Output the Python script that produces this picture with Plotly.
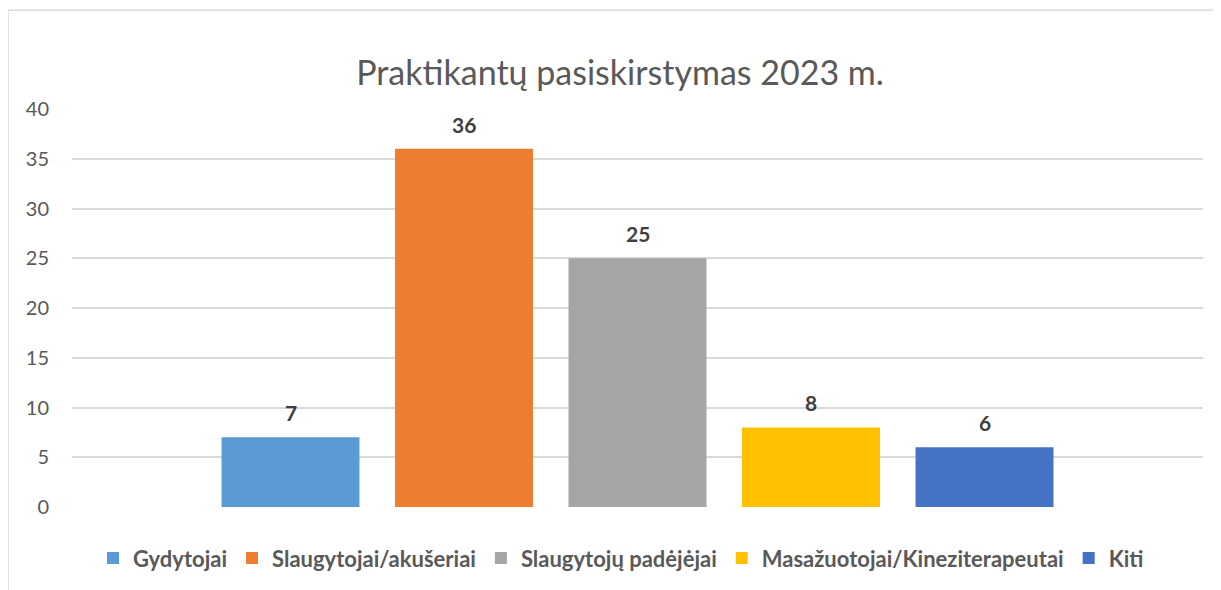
import plotly.graph_objects as go

series_names = ["Gydytojai", "Slaugytojai/akušeriai", "Slaugytojų padėjėjai",
                "Masažuotojai/Kineziterapeutai", "Kiti"]
series_values = [7, 36, 25, 8, 6]
series_colors = ["#5B9BD5", "#ED7D31", "#A5A5A5", "#FFC000", "#4472C4"]
y_ticks = [0, 5, 10, 15, 20, 25, 30, 35, 40]
title_text = "Praktikantų pasiskirstymas 2023 m."

W, H = 1221, 590
OFF = 8  # body margin of the html page
L, R = 72 - OFF, 1203 - OFF
T, B = 108.7 - OFF, 506.7 - OFF
pw, ph = R - L, B - T

fig = go.Figure()
for i, (n, v, c) in enumerate(zip(series_names, series_values, series_colors)):
    fig.add_trace(go.Bar(x=[i], y=[v], name=n, marker=dict(color=c, line=dict(width=0)),
                         width=0.795, hoverinfo="name+y"))
    fig.add_annotation(x=i, y=v, text=f"<b>{v}</b>", showarrow=False, yanchor="bottom",
                       yshift=10, font=dict(family="Lato", size=21, color="#404040"))

unit = 173.5
half = pw / unit / 2
fig.update_xaxes(range=[2 - half, 2 + half], showticklabels=False, showgrid=False,
                 zeroline=False, showline=False, fixedrange=True)
fig.update_yaxes(range=[0, 40], tickvals=y_ticks, showgrid=True, gridcolor="#D9D9D9",
                 gridwidth=1.5, zeroline=False, showline=False, ticks="", ticklen=0,
                 tickfont=dict(family="Lato", size=20, color="#595959"), ticklabelstandoff=22)

def px2x(px):
    return (px - OFF - L) / pw

def px2y(py):
    return (B - (py - OFF)) / ph

fig.add_shape(type="rect", xref="paper", yref="paper",
              x0=px2x(8), x1=px2x(1240), y0=px2y(610), y1=px2y(10),
              line=dict(color="#D9D9D9", width=1.5), fillcolor="rgba(0,0,0,0)", layer="below")

fig.update_layout(
    width=W, height=H,
    margin=dict(l=L, r=W - R, t=T, b=H - B, autoexpand=False),
    paper_bgcolor="white", plot_bgcolor="white",
    barmode="overlay",
    showlegend=True,
    title=dict(text=title_text, x=(620 - OFF) / W, xanchor="center", xref="container",
               y=1 - (73 - OFF) / H, yanchor="middle", yref="container",
               font=dict(family="Lato", size=34, color="#595959")),
    legend=dict(orientation="h", x=(621 - OFF) / W, xref="container", xanchor="center",
                y=px2y(558), yanchor="middle",
                font=dict(family="Lato", size=22, color="#595959", weight="bold"),
                itemwidth=30, traceorder="normal"),
)

fig.write_html("out.html")
